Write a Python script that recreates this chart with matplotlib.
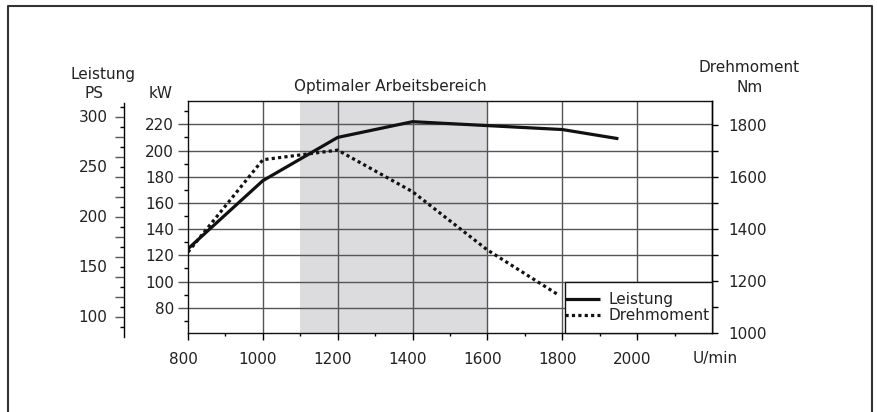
"""Leistung / Drehmoment chart: kW + PS on the left, Nm on the right."""

import matplotlib
matplotlib.use("Agg")
import matplotlib.pyplot as plt
from matplotlib.lines import Line2D
from matplotlib.patches import Rectangle
from matplotlib.transforms import ScaledTranslation
import numpy as np

plt.rcParams["font.family"] = ["DejaVu Sans"]

# --- data -------------------------------------------------------------------
rpm_power = [800, 1000, 1200, 1400, 1600, 1800, 1950]
power_kw = [125, 177, 210, 222, 219, 216, 209]

rpm_torque = [800, 1000, 1200, 1400, 1600, 1790]
torque_nm = [1310, 1665, 1702, 1542, 1318, 1145]

optimal_range = (1100, 1600)          # "Optimaler Arbeitsbereich"
x_ticks = [800, 1000, 1200, 1400, 1600, 1800, 2000]
kw_ticks = [80, 100, 120, 140, 160, 180, 200, 220]
nm_ticks = [1000, 1200, 1400, 1600, 1800]
ps_labels = [100, 150, 200, 250, 300]

TXT = "#222222"
GRID = "#555555"
FS = 11

W, H = 877, 412


def fx(px):
    return px / W


def fy(py):
    return 1 - py / H


fig = plt.figure(figsize=(W / 100, H / 100), dpi=100)

# main axes (kW)
ax = fig.add_axes([fx(188), fy(332.7), fx(712) - fx(188), fy(100.7) - fy(332.7)])
ax.set_xlim(800, 2200)
ax.set_ylim(61, 238)

ax.axvspan(*optimal_range, color="#dcdcde", lw=0, zorder=0)
for v in x_ticks[1:]:
    ax.axvline(v, color=GRID, lw=1.0, zorder=1)
for v in kw_ticks:
    ax.axhline(v, color=GRID, lw=1.0, zorder=1)

ax.set_xticks(x_ticks)
ax.set_xticks(np.arange(900, 2200, 200), minor=True)
ax.set_yticks(kw_ticks)
ax.set_yticks(np.arange(70, 240, 20), minor=True)
ax.tick_params(axis="x", which="major", length=5, width=1, pad=8.8,
               labelsize=FS, labelcolor=TXT)
ax.tick_params(axis="x", which="minor", length=2.5, width=1)
ax.tick_params(axis="y", which="major", length=7, width=1, pad=3,
               labelsize=FS, labelcolor=TXT, color=GRID)
ax.tick_params(axis="y", which="minor", length=3, width=1)
# rpm labels sit a little left of their ticks in the original
shift = ScaledTranslation(-5 / 100, 0, fig.dpi_scale_trans)
for lab in ax.get_xticklabels():
    lab.set_transform(lab.get_transform() + shift)
for s in ax.spines.values():
    s.set_linewidth(1.0)
    s.set_color("#111111")

l1, = ax.plot(rpm_power, power_kw, color="#111111", lw=2.3,
              solid_capstyle="butt", zorder=4, label="Leistung")

# right axis (Nm)
ax2 = ax.twinx()
ax2.set_ylim(1000, 1892)
ax2.set_yticks(nm_ticks)
ax2.set_yticks(np.arange(1100, 1900, 200), minor=True)
ax2.tick_params(axis="y", which="both", length=4.5, width=1, pad=7,
                labelsize=FS, labelcolor=TXT)
for s in ax2.spines.values():
    s.set_visible(False)
ax2.spines["right"].set_visible(True)
ax2.spines["right"].set_linewidth(1.0)
l2, = ax2.plot(rpm_torque, torque_nm, color="#111111", lw=2.3,
               linestyle=(0, (1, 1)), dash_capstyle="butt", zorder=4,
               label="Drehmoment")

# legend: white box in the lower-right grid cell, text close to the right spine
ax2.add_patch(Rectangle((0.7195, 0), 0.2805, 0.217, transform=ax2.transAxes,
                        facecolor="white", edgecolor="#111111", lw=1.0,
                        zorder=5, clip_on=False))
leg = ax2.legend(handles=[l1, l2], loc="lower right",
                 bbox_to_anchor=(1.0, 0.03), borderaxespad=0,
                 frameon=False, fontsize=FS, handlelength=2.3,
                 handletextpad=0.55, borderpad=0.15, labelspacing=0.1)
leg.set_zorder(6)
for t in leg.get_texts():
    t.set_color(TXT)

# separate PS scale
ps = fig.add_axes([fx(124), fy(336.7), 0.001, fy(103) - fy(336.7)])
ps.set_ylim(80.6, 314.3)
ps.set_xticks([])
for side in ("top", "bottom", "right"):
    ps.spines[side].set_visible(False)
ps.spines["left"].set_linewidth(1.0)
ps.patch.set_visible(False)
ps.set_yticks(np.arange(100, 301, 20))
ps.set_yticks(np.arange(90, 311, 20), minor=True)
ps.tick_params(axis="y", which="major", length=6.7, width=1, labelleft=False,
               color=GRID)
ps.tick_params(axis="y", which="minor", length=3, width=1)
for v in ps_labels:
    ps.annotate(str(v), xy=(0, v), xycoords=("axes fraction", "data"),
                xytext=(-12, 0), textcoords="offset points",
                ha="right", va="center", fontsize=FS, color=TXT)

# header texts
fig.text(fx(103), fy(75), "Leistung", ha="center", va="center", fontsize=FS, color=TXT)
fig.text(fx(94), fy(93), "PS", ha="center", va="center", fontsize=FS, color=TXT)
fig.text(fx(161), fy(93), "kW", ha="center", va="center", fontsize=FS, color=TXT)
fig.text(fx(390), fy(87), "Optimaler Arbeitsbereich", ha="center", va="center",
         fontsize=FS, color=TXT)
fig.text(fx(749), fy(68), "Drehmoment", ha="center", va="center", fontsize=FS, color=TXT)
fig.text(fx(750), fy(87), "Nm", ha="center", va="center", fontsize=FS, color=TXT)
fig.text(fx(715), fy(358.5), "U/min", ha="center", va="center", fontsize=FS, color=TXT)

# outer frame (open at the bottom)
fig.add_artist(Line2D([fx(8), fx(8), fx(872), fx(872)], [0, fy(5.5), fy(5.5), 0],
                      color="#333333", lw=1.5))

fig.savefig("out.png", dpi=100)
